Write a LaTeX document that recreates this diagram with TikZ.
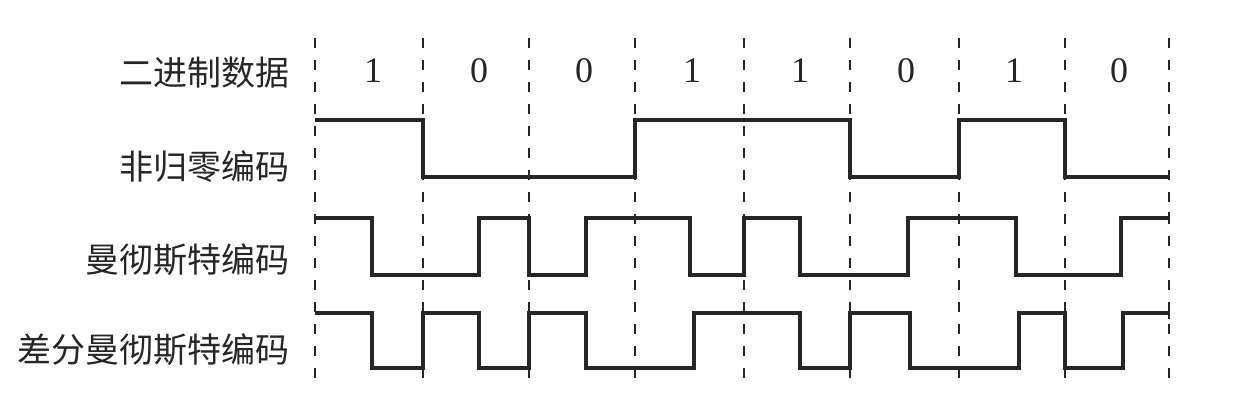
\documentclass[tikz,border=0pt]{standalone}
\usepackage{fontspec}
\setmainfont{Liberation Serif}
\newfontfamily\cjk{Noto Sans CJK SC}
\begin{document}
\begin{tikzpicture}[x=1pt,y=-1pt,
  sig/.style={line width=3.4pt,line join=miter,black!85},
  grid/.style={line width=2.4pt,black!85,dash pattern=on 10pt off 12pt},
  rowlabel/.style={anchor=east,inner sep=0pt,font=\cjk\fontsize{34}{37}\selectfont,text=black!85},
  bitlabel/.style={inner sep=0pt,font=\fontsize{36}{39}\selectfont,text=black!85}]
\useasboundingbox (0,0) rectangle (1240,406);
% dashed bit boundaries
\foreach \x in {315,423,529,635,744,850,959,1065,1169}
  \draw[grid] (\x,38) -- (\x,384);
% row labels
\node[rowlabel] (l1) at (290,73) {二进制数据};
\node[rowlabel] (l2) at (290,167) {非归零编码};
\node[rowlabel] (l3) at (290,260) {曼彻斯特编码};
\node[rowlabel] (l4) at (290,350) {差分曼彻斯特编码};
% bit values
\node[bitlabel] (b1) at (373,71) {1};
\node[bitlabel] (b2) at (479,71) {0};
\node[bitlabel] (b3) at (584,71) {0};
\node[bitlabel] (b4) at (692,71) {1};
\node[bitlabel] (b5) at (800,71) {1};
\node[bitlabel] (b6) at (906,71) {0};
\node[bitlabel] (b7) at (1014,71) {1};
\node[bitlabel] (b8) at (1119,71) {0};
% NRZ
\draw[sig] (315,120) -- (423,120) -- (423,177) -- (635,177) -- (635,120)
  -- (850,120) -- (850,177) -- (959,177) -- (959,120) -- (1065,120)
  -- (1065,177) -- (1169,177);
% Manchester
\draw[sig] (315,218) -- (372,218) -- (372,275) -- (479,275) -- (479,218)
  -- (529,218) -- (529,275) -- (586,275) -- (586,218) -- (690,218)
  -- (690,275) -- (744,275) -- (744,218) -- (800,218) -- (800,275)
  -- (908,275) -- (908,218) -- (1016,218) -- (1016,275) -- (1121,275)
  -- (1121,218) -- (1169,218);
\draw[line width=2.4pt,black!85] (1169,212) -- (1169,224);
% Differential Manchester
\draw[sig] (315,313) -- (372,313) -- (372,368) -- (423,368) -- (423,313)
  -- (479,313) -- (479,368) -- (529,368) -- (529,313) -- (586,313)
  -- (586,368) -- (694,368) -- (694,313) -- (800,313) -- (800,368)
  -- (850,368) -- (850,313) -- (910,313) -- (910,368) -- (1019,368)
  -- (1019,313) -- (1065,313) -- (1065,368) -- (1123,368) -- (1123,313)
  -- (1169,313);
\draw[line width=2.4pt,black!85] (1169,307) -- (1169,319);
\end{tikzpicture}
\end{document}
